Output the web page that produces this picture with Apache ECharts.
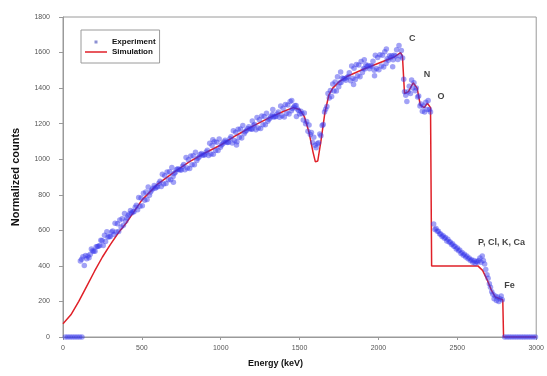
<!DOCTYPE html>
<html><head><meta charset="utf-8">
<script src="https://cdn.jsdelivr.net/npm/echarts@6/dist/echarts.min.js"></script>
<style>html,body{margin:0;padding:0;background:#fff}#c{width:547px;height:376px}</style>
</head><body><div id="c"></div>
<script>
const xTicks = [0, 500, 1000, 1500, 2000, 2500, 3000];
const yTicks = [0, 200, 400, 600, 800, 1000, 1200, 1400, 1600, 1800];
const seriesNames = ['Experiment', 'Simulation'];

const simEnergy = [0,50,100,150,200,250,300,350,400,450,500,600,700,800,900,1000,1100,1200,1300,1400,1460,1500,1530,1560,1585,1600,1615,1635,1660,1685,1710,1750,1800,1900,2000,2100,2140,2152,2165,2190,2220,2245,2265,2290,2310,2330,2337,2450,2550,2630,2660,2690,2715,2740,2770,2788,2793,3000];
const simCounts = [75,125,200,285,370,450,520,585,640,705,770,860,925,985,1035,1080,1135,1185,1230,1270,1290,1280,1240,1150,1040,985,990,1100,1260,1360,1400,1435,1465,1505,1540,1575,1600,1580,1370,1380,1430,1400,1305,1290,1315,1290,400,400,400,400,375,320,265,225,215,210,0,0];

const experiment = [
[15,0],[30,0],[45,0],[60,0],[75,0],[90,0],[105,0],[120,0],
[110,427],[118,437],[126,452],[135,402],[143,459],[150,440],[158,455],[165,446],[173,466],[180,495],[188,485],[195,482],[203,483],[210,508],[218,509],[225,510],[233,514],[240,544],[248,543],[255,515],[263,572],[270,537],[278,592],[285,562],[293,564],[300,565],[308,590],[315,596],[323,576],[330,640],[338,590],[345,637],[353,593],[360,658],[368,619],[375,665],[383,629],[390,694],[398,653],[405,670],[413,682],[420,692],[428,712],[435,697],[443,704],[450,705],[458,730],[465,741],[473,716],[480,785],[488,735],[495,782],
[503,738],[510,808],[518,769],[525,815],[533,774],[540,844],[548,798],[555,815],[563,827],[570,837],[578,852],[585,837],[593,844],[600,845],[608,865],[615,876],[623,846],[630,915],[638,860],[645,907],[653,863],[660,928],[668,884],[675,930],[683,884],[690,954],[698,903],[700,870],
[705,920],[713,927],[720,942],[728,947],[735,942],[743,939],[750,940],[758,960],[765,971],[773,941],[780,1010],[788,950],[795,997],[803,948],[810,1018],[818,969],[825,1020],[833,969],[840,1039],[848,993],[855,1005],[863,1012],[870,1027],[878,1032],[885,1022],[893,1024],[900,1025],
[908,1040],[915,1051],[923,1021],[930,1090],[938,1030],[945,1077],[950,1110],[953,1028],[960,1098],[968,1049],[975,1095],[983,1049],[990,1114],[998,1068],[1005,1080],[1013,1087],[1020,1097],[1028,1107],[1035,1097],[1043,1094],[1050,1095],[1058,1115],[1065,1126],[1073,1091],[1080,1160],[1088,1105],[1095,1152],[1100,1080],
[1103,1098],[1110,1168],[1118,1124],[1125,1170],[1133,1119],[1140,1189],[1148,1143],[1155,1155],[1163,1162],[1170,1172],[1178,1182],[1185,1172],[1193,1169],[1200,1170],[1200,1215],[1208,1190],[1215,1196],[1223,1166],[1230,1235],[1238,1175],[1245,1222],[1253,1173],[1260,1243],[1268,1194],[1275,1240],[1283,1194],[1290,1259],[1298,1213],
[1305,1225],[1313,1232],[1320,1242],[1328,1252],[1330,1280],[1335,1237],[1343,1239],[1350,1240],[1358,1255],[1365,1266],[1373,1236],[1380,1300],[1388,1245],[1395,1287],[1403,1238],[1410,1308],[1418,1259],[1425,1305],[1433,1254],[1440,1324],[1448,1273],[1450,1330],[1455,1285],[1463,1292],[1470,1302],[1478,1302],[1480,1240],[1485,1282],[1493,1274],
[1500,1255],[1508,1270],[1515,1256],[1523,1221],[1530,1260],[1538,1200],[1545,1212],[1553,1158],[1560,1193],[1568,1139],[1575,1150],[1583,1094],[1590,1124],[1598,1078],[1605,1065],[1613,1087],[1620,1092],[1628,1142],[1635,1132],[1643,1189],[1650,1195],[1658,1265],[1665,1281],[1673,1296],[1680,1370],[1688,1345],[1695,1387],
[1703,1353],[1710,1423],[1718,1384],[1725,1435],[1733,1384],[1740,1464],[1748,1408],[1755,1430],[1760,1490],[1763,1432],[1770,1457],[1778,1452],[1785,1452],[1793,1444],[1800,1460],[1808,1465],[1815,1486],[1823,1441],[1830,1525],[1838,1455],[1842,1420],[1845,1512],[1853,1448],[1860,1533],[1868,1469],[1875,1530],[1883,1464],[1890,1549],[1898,1488],
[1905,1510],[1910,1560],[1913,1507],[1920,1532],[1928,1522],[1935,1527],[1943,1509],[1950,1525],[1958,1525],[1965,1551],[1973,1501],[1975,1470],[1980,1585],[1988,1510],[1995,1572],[2003,1503],[2010,1588],[2018,1524],[2025,1585],[2033,1519],[2040,1604],[2048,1538],[2050,1620],[2055,1565],[2063,1557],[2070,1582],[2078,1572],[2085,1582],[2090,1520],[2093,1559],
[2100,1585],[2108,1580],[2115,1616],[2123,1561],[2130,1640],[2138,1580],[2145,1612],[2153,1570],
[2160,1450],[2165,1380],[2173,1360],[2180,1325],[2188,1380],[2195,1410],[2203,1370],[2210,1445],[2218,1400],[2225,1430],[2233,1385],[2240,1400],[2248,1350],[2255,1355],[2263,1300],[2270,1310],[2278,1270],[2285,1300],[2293,1265],[2300,1320],[2308,1280],[2315,1330],[2323,1280],[2330,1265],
[2350,635],[2358,605],[2365,610],[2373,595],[2380,595],[2388,580],[2395,580],[2403,565],[2410,570],[2418,555],[2425,560],[2433,540],[2440,550],[2448,535],[2455,535],[2463,520],[2470,525],[2478,510],[2485,510],[2493,495],[2500,500],[2508,485],[2515,490],[2523,470],[2530,475],[2538,460],[2545,465],[2553,450],[2560,455],[2568,440],[2575,445],[2583,430],[2590,435],[2598,420],[2605,430],[2613,415],[2620,425],[2628,420],[2635,430],[2643,445],[2650,420],[2658,455],[2665,430],[2673,410],[2680,380],[2688,350],[2695,330],[2703,300],[2710,280],[2718,255],[2725,240],[2733,215],[2740,230],[2748,205],[2755,225],[2763,200],[2770,215],[2778,230],[2785,210],
[2800,0],[2815,0],[2830,0],[2845,0],[2860,0],[2875,0],[2890,0],[2905,0],[2920,0],[2935,0],[2950,0],[2965,0],[2980,0],[2995,0]
];

const annLabels = ['C', 'N', 'O', 'P, Cl, K, Ca', 'Fe'];
const annEnergy = [2214, 2308, 2396, 2780, 2830];
const annCounts = [1680, 1474, 1350, 530, 292];

const chart = echarts.init(document.getElementById('c'), null, {renderer: 'canvas'});
const simData = simEnergy.map((e, i) => [e, simCounts[i]]);
const annData = annLabels.map((t, i) => ({name: t, value: [annEnergy[i], annCounts[i]]}));
const font = 'Liberation Sans, Arial, sans-serif';

chart.setOption({
  animation: false,
  backgroundColor: '#fff',
  textStyle: {fontFamily: font},
  grid: {left: 63, right: 7, top: 17, bottom: 39, show: true, borderColor: '#9a9a9a', borderWidth: 1},
  xAxis: {
    type: 'value', min: xTicks[0], max: xTicks[xTicks.length - 1], interval: xTicks[1] - xTicks[0],
    axisLine: {lineStyle: {color: '#9a9a9a'}},
    axisTick: {show: true, length: 3, lineStyle: {color: '#9a9a9a'}},
    axisLabel: {fontSize: 7, color: '#555', margin: 8, fontFamily: font, formatter: v => String(v)},
    splitLine: {show: false}
  },
  yAxis: {
    type: 'value', min: yTicks[0], max: yTicks[yTicks.length - 1], interval: yTicks[1] - yTicks[0],
    name: 'Normalized counts', nameLocation: 'middle', nameGap: 42, nameRotate: 90,
    nameTextStyle: {fontSize: 11, fontWeight: 'bold', color: '#111', fontFamily: font},
    axisLine: {show: true, lineStyle: {color: '#9a9a9a'}},
    axisTick: {show: true, length: 4, lineStyle: {color: '#9a9a9a'}},
    axisLabel: {fontSize: 7, color: '#555', margin: 13, fontFamily: font, formatter: v => String(v)},
    splitLine: {show: false}
  },
  legend: {
    left: 81, top: 30, orient: 'vertical',
    padding: [8, 4, 7, 4], itemGap: 2, itemWidth: 22, itemHeight: 8,
    borderColor: '#9a9a9a', borderWidth: 1, backgroundColor: '#fff',
    textStyle: {fontSize: 8, fontWeight: 'bold', color: '#111', fontFamily: font},
    data: [
      {name: seriesNames[0], icon: 'path://M0,0M22,8M9.5,2.5h3v3h-3z', itemStyle: {color: '#6f74c8'}},
      {name: seriesNames[1], icon: 'path://M0,0M22,8M0,3.25h22v1.5h-22z', itemStyle: {color: '#e02028'}}
    ]
  },
  graphic: [
    {type: 'text', left: 248, top: 359, style: {text: 'Energy (keV)', font: 'bold 9px ' + font, fill: '#111'}}
  ],
  series: [
    {
      name: seriesNames[1], type: 'line', data: simData, showSymbol: false, symbol: 'none',
      lineStyle: {color: '#e02028', width: 1.5}, itemStyle: {color: '#e02028'}, z: 2, silent: true
    },
    {
      name: seriesNames[0], type: 'scatter', data: experiment, symbol: 'circle', symbolSize: 5.5,
      itemStyle: {color: 'rgba(55,55,235,0.58)'}, z: 3, silent: true
    },
    {
      name: 'labels', type: 'scatter', data: annData, symbolSize: 0, silent: true, z: 4,
      label: {show: true, position: 'inside', formatter: p => p.name, fontSize: 9, fontWeight: 'bold', color: '#111', fontFamily: font}
    }
  ]
});
</script>
</body></html>
